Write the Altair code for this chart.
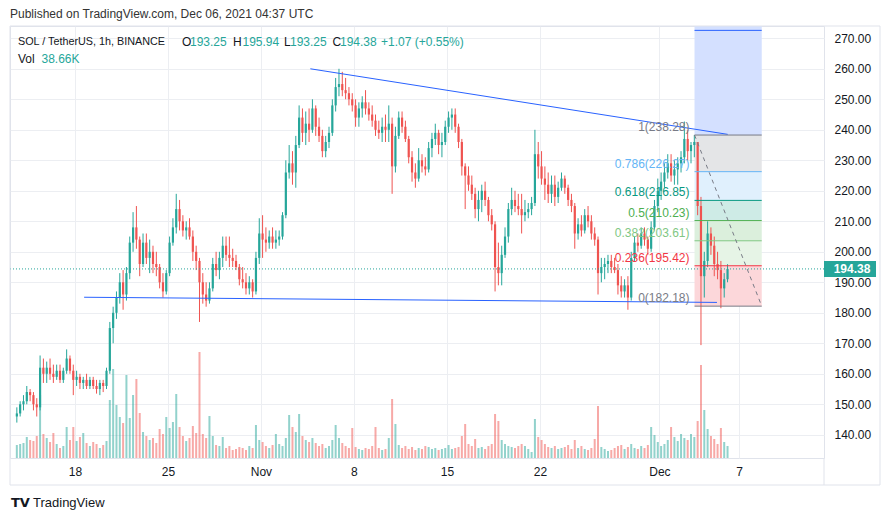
import altair as alt
import pandas as pd

# ---------------- data (6-hour candles) ----------------
first_open = 146
closes = [
    147, 150, 151, 154, 153, 150, 149, 162, 160, 162,
    160, 159, 161, 158, 161, 165, 161, 158, 159, 157,
    158, 156, 158, 156, 155, 157, 156, 161, 175, 180,
    185, 190, 186, 193, 203, 208, 204, 196, 203, 198,
    200, 196, 195, 190, 187, 193, 203, 208, 214, 210,
    207, 208, 205, 200, 197, 190, 186, 184, 188, 196,
    194, 198, 202, 199, 198, 197, 195, 191, 190, 188,
    190, 187, 198, 206, 204, 203, 205, 203, 204, 205,
    212, 226, 229, 226, 235, 244, 239, 242, 240, 247,
    241, 238, 233, 236, 239, 248, 254, 255, 253, 252,
    250, 248, 244, 247, 249, 247, 245, 243, 240, 239,
    241, 240, 242, 228, 238, 244, 241, 237, 231, 226,
    224, 230, 228, 227, 234, 237, 239, 235, 236, 241,
    244, 245, 241, 236, 228, 225, 222, 219, 214, 217,
    220, 217, 212, 209, 195, 193, 199, 205, 214, 217,
    215, 214, 212, 213, 214, 216, 232, 228, 224, 222,
    219, 222, 218, 221, 224, 221, 217, 215, 206, 209,
    207, 212, 210, 206, 204, 193, 195, 196, 197, 195,
    194, 189, 187, 189, 185, 198, 203, 202, 206, 204,
    201, 208, 215, 220, 223, 226, 229, 225, 227, 229,
    231, 237, 233, 235, 236, 215, 192, 197, 206, 202,
    196, 194, 188, 191, 194.38,
]
highs = [
    149, 151, 153, 156, 155, 154, 152, 166, 165, 164,
    165, 163, 163, 163, 162, 168, 166, 163, 161, 160,
    159, 160, 159, 159, 158, 158, 158, 162, 177, 182,
    187, 193, 194, 195, 205, 213, 215, 205, 206, 206,
    204, 202, 200, 196, 193, 194, 205, 211, 219, 217,
    212, 210, 211, 207, 202, 198, 193, 190, 190, 198,
    200, 200, 205, 205, 205, 201, 199, 196, 195, 193,
    192, 191, 200, 211, 212, 208, 207, 208, 207, 207,
    213, 230, 235, 233, 238, 248, 247, 246, 247, 250,
    248, 244, 240, 238, 241, 250, 257, 260, 259, 257,
    254, 252, 250, 249, 251, 253, 249, 248, 245, 243,
    244, 245, 248, 244, 241, 246, 246, 243, 238, 233,
    229, 234, 232, 231, 236, 239, 242, 240, 239, 243,
    246, 247, 247, 242, 237, 229, 228, 225, 221, 220,
    222, 223, 218, 214, 210, 203, 202, 208, 216, 221,
    220, 219, 219, 217, 216, 218, 240, 236, 233, 228,
    226, 225, 225, 223, 226, 225, 222, 219, 216, 211,
    212, 214, 215, 212, 208, 205, 198, 198, 199, 199,
    198, 196, 192, 191, 192, 200, 205, 206, 208, 208,
    205, 210, 217, 224, 226, 229, 232, 232, 230, 231,
    233, 242.7, 240, 236, 238.3, 236, 218, 200, 210, 208,
    205, 200, 197, 193, 195.94,
]
lows = [
    144, 146, 148, 150, 151, 148, 146, 148, 157, 157,
    158, 157, 158, 157, 157, 160, 160, 153, 156, 155,
    155, 155, 155, 155, 153.5, 153, 154, 155, 160, 170,
    178, 183, 181, 184, 191, 200, 201, 192, 195, 196,
    193, 193, 192, 188, 185, 186, 192, 202, 206, 207,
    205, 204, 204, 197, 194, 177, 183, 182, 183, 187,
    192, 191, 195, 197, 195, 195, 194, 189, 188, 186,
    186, 185, 186, 196, 198, 200, 201, 201, 201, 202,
    204, 211, 224, 222, 221, 234, 236, 235, 236, 239,
    238, 236, 231, 231, 234, 238, 246, 251, 251, 250,
    248, 246, 241, 241, 244, 245, 243, 241, 238, 237,
    236, 236, 236, 219, 226, 237, 239, 236, 229, 223,
    221, 223, 226, 225, 226, 231, 235, 232, 231, 235,
    239, 240, 239, 234, 225, 214, 220, 217, 211, 210,
    213, 215, 210, 207, 187, 189, 189, 198, 203, 212,
    213, 212, 206, 210, 211, 212, 215, 224, 222, 217,
    216, 216, 215, 216, 220, 219, 215, 213, 201, 204,
    205, 206, 208, 204, 202, 186, 190, 191, 193, 193,
    193, 186, 185, 185, 181, 184, 197, 200, 201, 202,
    199, 200, 207, 213, 217, 221, 224, 223, 222, 222,
    226, 229, 230, 229, 231, 212, 169.4, 185, 195, 199,
    192, 191, 181.5, 185, 190,
]
# volume (relative units)
volumes = [
    13, 14, 15, 21, 18, 17, 22, 63, 24, 20,
    16, 25, 14, 10, 12, 31, 18, 31, 17, 21,
    25, 15, 12, 16, 14, 10, 13, 17, 58, 89,
    53, 41, 35, 83, 40, 63, 79, 45, 26, 22,
    18, 20, 15, 29, 24, 41, 30, 36, 64, 31,
    22, 17, 20, 32, 25, 106, 24, 20, 42, 22,
    13, 12, 21, 10, 12, 8, 9, 11, 10, 8,
    12, 10, 33, 18, 16, 12, 10, 13, 24, 14,
    12, 20, 43, 31, 26, 44, 22, 18, 16, 20,
    15, 12, 14, 10, 12, 18, 33, 20, 15, 12,
    10, 30, 11, 9, 8, 10, 9, 12, 31, 10,
    8, 9, 20, 59, 34, 13, 10, 12, 9, 11,
    8, 10, 9, 12, 11, 9, 10, 8, 9, 10,
    13, 9, 10, 11, 22, 34, 14, 12, 19, 10,
    11, 9, 12, 14, 44, 37, 18, 14, 12, 11,
    10, 12, 14, 12, 9, 6, 39, 21, 18, 14,
    11, 10, 12, 9, 10, 11, 13, 9, 18, 10,
    12, 9, 8, 10, 19, 52, 11, 9, 7, 8,
    10, 12, 13, 9, 11, 14, 10, 9, 12, 10,
    13, 31, 23, 16, 12, 14, 18, 31, 21, 17,
    24, 20, 18, 24, 21, 37, 93, 48, 29, 22,
    19, 14, 30, 16, 12,
]

# first candle time in days from 2021-10-18 00:00 UTC; candle length in days
first_day = -4.5
candle_len = 0.25

tick_days = [0, 7, 14, 21, 28, 35, 44, 50]
tick_labels = ["18", "25", "Nov", "8", "15", "22", "Dec", "7"]
price_ticks = list(range(140, 271, 10))

fib_ratios = ["1", "0.786", "0.618", "0.5", "0.382", "0.236", "0"]
fib_prices = [238.28, 226.27, 216.85, 210.23, 203.61, 195.42, 182.18]
fib_line_colors = ["#787b86", "#64b5f6", "#089981", "#4caf50", "#81c784", "#f23645", "#787b86"]
fib_fill_colors = ["#e4e5e7", "#e0f0fd", "#ceebe6", "#dbefdc", "#e6f4e6", "#fcd7da"]
fib_start_day, fib_end_day = 46.64, 51.70
target_price = 272.6
zone_top_price = 274.0

upper_trend = {"x": 17.72, "y": 260.0, "x2": 49.14, "y2": 238.5}
lower_trend = {"x": 0.69, "y": 185.1, "x2": 48.33, "y2": 183.4}
last_price = 194.38

# ---------------- layout ----------------
W, H = 814, 432
X_DOMAIN = [-4.513, 56.01]
Y_DOMAIN = [132.39, 274.03]
FONT = "Liberation Sans"
UP, DOWN = "#26a69a", "#ef5350"
GRID = "#eceef2"
FRAME = "#e0e3eb"

n = len(closes)
opens = [first_open] + closes[:-1]
days = [first_day + candle_len * (i + 0.5) for i in range(n)]
df = pd.DataFrame({
    "day": days, "open": opens, "high": highs, "low": lows,
    "close": closes, "vol": volumes,
})
df["dir"] = ["up" if c >= o else "down" for o, c in zip(opens, closes)]

label_expr = ""
for d, lab in zip(tick_days, tick_labels):
    label_expr += f"datum.value == {d} ? '{lab}' : "
label_expr += "''"

x_scale = alt.Scale(domain=X_DOMAIN, nice=False, zero=False)
y_scale = alt.Scale(domain=Y_DOMAIN, nice=False, zero=False)
x_axis = alt.Axis(values=tick_days, labelExpr=label_expr, title=None, ticks=False,
                  domain=False, grid=True, gridColor=GRID, labelFont=FONT,
                  labelFontSize=12, labelColor="#131722", labelPadding=8,
                  labelFlush=False, labelOverlap=False)
y_axis = alt.Axis(values=price_ticks, format=".2f", orient="right", title=None,
                  ticks=False, domain=False, grid=True, gridColor=GRID,
                  labelFont=FONT, labelFontSize=12, labelColor="#131722",
                  labelPadding=10)


def X(field):
    return alt.X(f"{field}:Q", scale=x_scale, axis=x_axis)


def Y(field):
    return alt.Y(f"{field}:Q", scale=y_scale, axis=y_axis)


color = alt.Color("dir:N", scale=alt.Scale(domain=["up", "down"], range=[UP, DOWN]), legend=None)

base = alt.Chart(df)

volume = base.mark_bar(size=2.0, opacity=0.5).encode(
    x=X("day"),
    y=alt.Y("vol:Q", scale=alt.Scale(domain=[0, H], nice=False), axis=None, stack=None),
    color=color,
)

# fibonacci fills
fill_df = pd.DataFrame({
    "x": [fib_start_day] * 6, "x2": [fib_end_day] * 6,
    "y": fib_prices[:-1], "y2": fib_prices[1:], "fill": fib_fill_colors,
})
fib_fill = alt.Chart(fill_df).mark_rect().encode(
    x=X("x"), x2="x2", y=Y("y"), y2="y2", color=alt.Color("fill:N", scale=None))

zone_df = pd.DataFrame({"x": [fib_start_day], "x2": [fib_end_day],
                        "y": [fib_prices[0]], "y2": [zone_top_price], "t": [target_price]})
blue_zone = alt.Chart(zone_df).mark_rect(color="#d4e0ff", clip=True).encode(
    x=X("x"), x2="x2", y=Y("y"), y2="y2")
target_line = alt.Chart(zone_df).mark_rule(color="#2962ff", strokeWidth=1).encode(
    x=X("x"), x2="x2", y=Y("t"))

wick = base.mark_rule(strokeWidth=1).encode(x=X("day"), y=Y("low"), y2="high", color=color)
body = base.mark_bar(size=2.2).encode(x=X("day"), y=Y("open"), y2="close", color=color)

trend_df = pd.DataFrame([upper_trend, lower_trend])
trends = alt.Chart(trend_df).mark_rule(color="#2962ff", strokeWidth=1).encode(
    x=X("x"), x2="x2", y=Y("y"), y2="y2")

lev_df = pd.DataFrame({
    "x": [fib_start_day] * 7, "x2": [fib_end_day] * 7, "y": fib_prices,
    "col": fib_line_colors,
    "label": [f"{r}({p:.2f})" for r, p in zip(fib_ratios, fib_prices)],
})
fib_lines = alt.Chart(lev_df).mark_rule(strokeWidth=1).encode(
    x=X("x"), x2="x2", y=Y("y"), color=alt.Color("col:N", scale=None))
fib_labels = alt.Chart(lev_df).mark_text(
    align="right", baseline="alphabetic", dx=-5, dy=-4, font=FONT, fontSize=12
).encode(x=X("x"), y=Y("y"), text="label:N", color=alt.Color("col:N", scale=None))

diag_df = pd.DataFrame({"x": [fib_start_day], "x2": [fib_end_day],
                        "y": [fib_prices[0]], "y2": [fib_prices[-1]]})
diag = alt.Chart(diag_df).mark_rule(color="#787b86", strokeWidth=1, strokeDash=[4, 4]).encode(
    x=X("x"), x2="x2", y=Y("y"), y2="y2")

last_df = pd.DataFrame({"p": [last_price], "t": [f"{last_price:.2f}"]})
last_line = alt.Chart(last_df).mark_rule(color=UP, strokeWidth=1, strokeDash=[1, 2]).encode(
    x=alt.value(0), x2=alt.value(W), y=Y("p"))
last_box = alt.Chart(last_df).mark_rect(color=UP, yOffset=-8, y2Offset=8).encode(
    x=alt.value(W), x2=alt.value(W + 52), y=Y("p"), y2="p")
last_text = alt.Chart(last_df).mark_text(
    color="white", font=FONT, fontSize=12, fontWeight="bold", align="center", baseline="middle"
).encode(x=alt.value(W + 28), y=Y("p"), text="t:N")

price_group = alt.layer(fib_fill, blue_zone, target_line, wick, body, trends, fib_lines,
                        diag, fib_labels, last_line, last_box, last_text)


def txt(s, x, y, col="#131722", size=12, weight="normal", font=FONT):
    return alt.Chart(pd.DataFrame({"t": [s]})).mark_text(
        align="left", baseline="middle", font=font, fontSize=size, fontWeight=weight, color=col
    ).encode(x=alt.value(x), y=alt.value(y), text="t:N")


texts = [
    txt("Published on TradingView.com, Dec 06, 2021 04:37 UTC", 0, -12, "#333333", 12),
    txt("SOL / TetherUS, 1h, BINANCE", 8, 16, "#131722", 10.8),
    txt("O", 172, 16), txt("193.25", 180, 16, UP),
    txt("H", 223, 16), txt("195.94", 232.5, 16, UP),
    txt("L", 274, 16), txt("193.25", 280, 16, UP),
    txt("C", 322.5, 16), txt("194.38", 330, 16, UP),
    txt("+1.07 (+0.55%)", 371, 16, UP),
    txt("Vol", 8, 33), txt("38.66K", 31.5, 33, UP),
    txt("TV", 1, 477, "#131722", 13, "bold", "DejaVu Sans"),
    txt("TradingView", 23, 477, "#131722", 13),
]

frame = alt.Chart(pd.DataFrame({"a": [0]})).mark_rect(
    fillOpacity=0, stroke=FRAME, strokeWidth=1
).encode(x=alt.value(0), x2=alt.value(870), y=alt.value(0), y2=alt.value(459))
sep = alt.Chart(pd.DataFrame({"a": [0]})).mark_rule(color=FRAME, strokeWidth=1).encode(
    x=alt.value(W), y=alt.value(H), y2=alt.value(459))

chart = alt.layer(volume, price_group, frame, sep, *texts).resolve_scale(
    y="independent"
).properties(
    width=W, height=H,
    padding={"left": 10, "top": 26, "right": 66, "bottom": 63},
    autosize=alt.AutoSizeParams(type="none"),
    background="white",
).configure_view(stroke=FRAME, strokeWidth=1)

chart.save("out.html", embed_options={"renderer": "svg", "actions": False})
